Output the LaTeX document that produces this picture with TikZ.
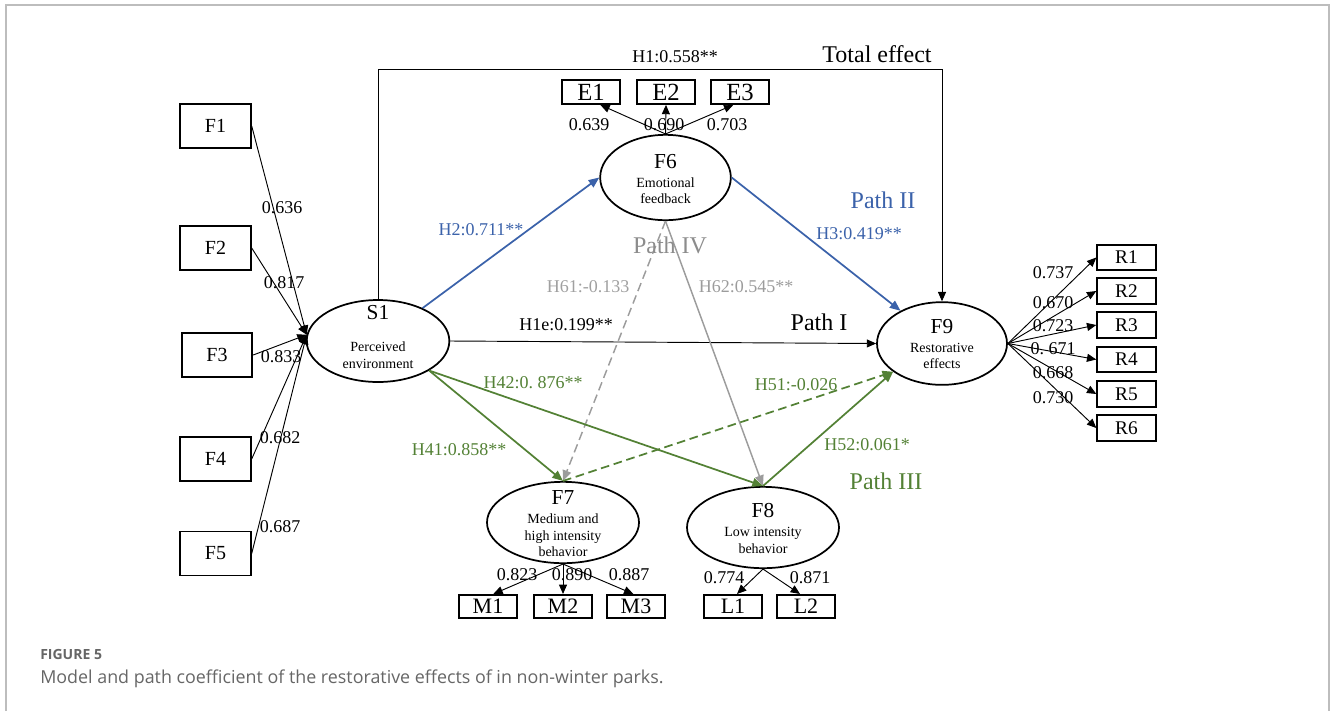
\documentclass[tikz,border=0pt]{standalone}
\usepackage{fontspec}
\setmainfont{Liberation Serif}
\newfontfamily\capfont{Open Sans}
\usetikzlibrary{arrows.meta,shapes.geometric}

\definecolor{pathblue}{HTML}{3B62AA}
\definecolor{pathgreen}{HTML}{538135}
\definecolor{pathgray}{HTML}{9C9C9C}
\definecolor{textgray}{HTML}{A0A0A0}
\definecolor{framegray}{HTML}{BDBDBD}
\definecolor{capgray}{HTML}{666666}

\tikzset{
    indbox/.style={draw, line width=1.3pt, inner sep=0pt},
    facbox/.style={indbox, minimum width=53pt, minimum height=33pt, font=\fontsize{15}{18}\selectfont},
    rbox/.style={indbox, minimum width=44pt, minimum height=19pt, font=\fontsize{14.5}{17}\selectfont},
    ebox/.style={indbox, minimum width=43.5pt, minimum height=18pt, font=\fontsize{18.5}{19}\selectfont},
    mbox/.style={indbox, minimum width=43.5pt, minimum height=17.5pt, font=\fontsize{16.5}{17}\selectfont},
    latent/.style={ellipse, draw, line width=1.3pt, inner sep=0pt},
    lattext/.style={align=center, inner sep=0pt, font=\fontsize{10.5}{12.4}\selectfont},
    coef/.style={inner sep=0pt, font=\fontsize{13.5}{16}\selectfont},
    pathname/.style={inner sep=0pt, font=\fontsize{18}{20}\selectfont},
    load/.style={-{Triangle[length=7pt,width=6pt]}, line width=0.7pt},
    struct/.style={-{Triangle[length=8pt,width=6.5pt]}, line width=1.3pt},
    longdash/.style={dash pattern=on 6.5pt off 3.5pt},
}
\newcommand{\lattitle}[1]{{\fontsize{16}{16}\selectfont #1}}

\begin{document}
\begin{tikzpicture}[x=0.75pt, y=-0.75pt]
    \useasboundingbox (0,0) rectangle (1330,711);
    \draw[framegray, line width=1.5pt] (6,711) -- (6,5) -- (1329,5) -- (1329,711);

    \node[facbox] (F1) at (215.5,126) {F1};
    \node[facbox] (F2) at (215.5,248) {F2};
    \node[facbox] (F3) at (217,355) {F3};
    \node[facbox] (F4) at (215.5,459) {F4};
    \node[facbox] (F5) at (215.5,553.5) {F5};

    \node[latent, minimum width=107pt, minimum height=61.5pt] (S1) at (378,341) {};
    \node[lattext] (S1t) at (378,337) {\lattitle{S1}\\[11.6pt]Perceived\\environment};
    \node[latent, minimum width=98pt, minimum height=64pt] (F6) at (665.5,177.5) {};
    \node[lattext] (F6t) at (665.5,179) {\lattitle{F6}\\[1.9pt]Emotional\\feedback};
    \node[latent, minimum width=97.5pt, minimum height=62pt] (F9) at (942,343.5) {};
    \node[lattext] (F9t) at (942,344) {\lattitle{F9}\\[1.9pt]Restorative\\effects};
    \node[latent, minimum width=114pt, minimum height=61pt] (F7) at (563,522.5) {};
    \node[lattext] (F7t) at (563,524) {\lattitle{F7}\\[1.9pt]Medium and\\high intensity\\behavior};
    \node[latent, minimum width=114pt, minimum height=61pt] (F8) at (763,527.5) {};
    \node[lattext] (F8t) at (763,528.5) {\lattitle{F8}\\[1.9pt]Low intensity\\behavior};

    \node[ebox] (E1) at (591,92) {E1};
    \node[ebox] (E2) at (666,92) {E2};
    \node[ebox] (E3) at (740,92) {E3};

    \node[mbox] (M1) at (488,606.5) {M1};
    \node[mbox] (M2) at (563,606.5) {M2};
    \node[mbox] (M3) at (636,606.5) {M3};
    \node[mbox] (L1) at (733,606.5) {L1};
    \node[mbox] (L2) at (806,606.5) {L2};

    \foreach \i/\y in {1/257.5, 2/291, 3/325, 4/359.5, 5/394, 6/428}
        \node[rbox] (R\i) at (1126.5,\y) {R\i};

    \foreach \i in {1,...,5}
        \draw[load] (F\i.east) -- (S1.175);
    \node[coef] (cF1) at (282,208) {0.636};
    \node[coef] (cF2) at (284,283) {0.817};
    \node[coef] (cF3) at (281,357) {0.833};
    \node[coef] (cF4) at (280,438) {0.682};
    \node[coef] (cF5) at (280,527) {0.687};

    \draw[load] (F6.north) -- ([xshift=7pt]E1.south);
    \draw[load] (F6.north) -- (E2.south);
    \draw[load] (F6.north) -- ([xshift=-5pt]E3.south);
    \node[coef] (cE1) at (589,125) {0.639};
    \node[coef] (cE2) at (664,125) {0.690};
    \node[coef] (cE3) at (727,125) {0.703};

    \draw[load] (F7.south) -- ([xshift=4pt]M1.north);
    \draw[load] (F7.south) -- (M2.north);
    \draw[load] (F7.south) -- ([xshift=-2pt]M3.north);
    \node[coef] (cM1) at (517,575) {0.823};
    \node[coef] (cM2) at (572,575) {0.890};
    \node[coef] (cM3) at (629,575) {0.887};

    \draw[load] (F8.south) -- ([xshift=3pt]L1.north);
    \draw[load] (F8.south) -- ([xshift=-4.5pt]L2.north);
    \node[coef] (cL1) at (724,578) {0.774};
    \node[coef] (cL2) at (810,578) {0.871};

    \foreach \i in {1,...,6}
        \draw[load] (F9.east) -- (R\i.west);
    \node[coef] (cR1) at (1053,273) {0.737};
    \node[coef] (cR2) at (1053,303) {0.670};
    \node[coef] (cR3) at (1053,326) {0.723};
    \node[coef] (cR4) at (1053,349) {0.\ 671};
    \node[coef] (cR5) at (1053,373) {0.668};
    \node[coef] (cR6) at (1053,398) {0.730};

    \coordinate (tb) at (0,69);
    \draw[load] (S1.north) -- (S1.north |- tb) -| (F9.north);
    \node[coef] (hH1) at (675,57) {H1:0.558**};
    \node[pathname] (pTot) at (877,54) {Total effect};

    \draw[load] (S1.east) -- (F9.west);
    \node[coef] (hH1e) at (566,325) {H1e:0.199**};
    \node[pathname] (pI) at (819,322) {Path I};

    \begin{scope}[pathblue]
        \draw[struct] (S1) -- (F6.west);
        \draw[struct] (F6.east) -- (F9);
        \node[coef] (hH2) at (481,230) {H2:0.711**};
        \node[coef] (hH3) at (859,234) {H3:0.419**};
        \node[pathname] (pII) at (883,200) {Path II};
    \end{scope}

    \begin{scope}[pathgray]
        \draw[struct, line width=1.1pt, longdash] (F6.south) -- (F7.north);
        \draw[struct, line width=1.1pt] (F6.south) -- (F8.north);
        \node[coef, textgray] (hH61) at (588,287) {H61:-0.133};
        \node[coef] (hH62) at (746,287) {H62:0.545**};
        \node[pathname, black!45] (pIV) at (670,245) {Path IV};
    \end{scope}

    \begin{scope}[pathgreen]
        \draw[struct] (S1.-30) -- (F7.north);
        \draw[struct] (S1.-30) -- (F8.north);
        \draw[struct, longdash] (F7.north) -- (F9.210);
        \draw[struct] (F8.north) -- (F9.210);
        \node[coef] (hH41) at (459,450) {H41:0.858**};
        \node[coef] (hH42) at (533,383) {H42:0.\ 876**};
        \node[coef] (hH51) at (796,385) {H51:-0.026};
        \node[coef] (hH52) at (867,445) {H52:0.061*};
        \node[pathname] (pIII) at (886,481) {Path III};
    \end{scope}

    \node[anchor=base west, inner sep=0pt, capgray, font=\capfont\bfseries\fontsize{10.5}{12}\selectfont] (figno) at (40,659) {FIGURE 5};
    \node[anchor=base west, inner sep=0pt, capgray, font=\capfont\fontsize{13.4}{15}\selectfont] (caption) at (40,683) {Model and path coefficient of the restorative effects of in non-winter parks.};
\end{tikzpicture}
\end{document}
